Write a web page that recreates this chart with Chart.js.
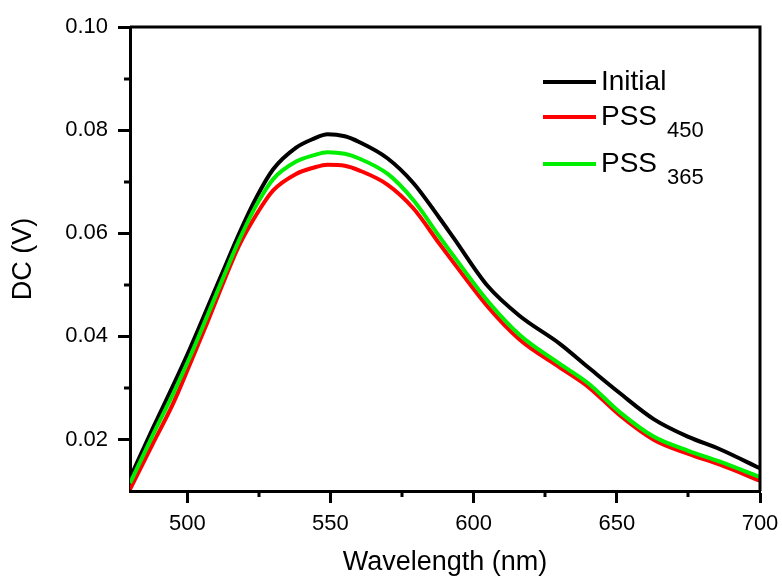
<!DOCTYPE html>
<html>
<head>
<meta charset="utf-8">
<script src="https://cdn.jsdelivr.net/npm/chart.js@4.4.0/dist/chart.umd.min.js"></script>
<style>
html,body{margin:0;padding:0;background:#fff;}
#wrap{width:782px;height:576px;position:relative;}
</style>
</head>
<body>
<div id="wrap"><canvas id="c" width="782" height="576"></canvas></div>
<script>
// ---- data ----
const wavelength = [480, 488, 495, 501, 507, 513, 518, 524, 530, 538, 544, 549, 555, 560, 570, 579, 588, 593, 605, 616, 630, 640, 651, 663, 675, 686, 700];
const initial = [0.0125, 0.0222, 0.0304, 0.0377, 0.0455, 0.0533, 0.0598, 0.0668, 0.0724, 0.0766, 0.0783, 0.0792, 0.0788, 0.0777, 0.0745, 0.0697, 0.0630, 0.0591, 0.0497, 0.0440, 0.0386, 0.0340, 0.0290, 0.0239, 0.0205, 0.0181, 0.0144];
const pss450 = [0.0103, 0.0192, 0.0269, 0.0347, 0.0427, 0.0510, 0.0575, 0.0635, 0.0683, 0.0715, 0.0727, 0.0733, 0.0731, 0.0722, 0.0694, 0.0648, 0.0580, 0.0543, 0.0457, 0.0394, 0.0340, 0.0302, 0.0247, 0.0199, 0.0172, 0.0151, 0.0120];
const pss365 = [0.0115, 0.0209, 0.0288, 0.0361, 0.0440, 0.0520, 0.0585, 0.0653, 0.0705, 0.0739, 0.0751, 0.0757, 0.0754, 0.0745, 0.0715, 0.0664, 0.0594, 0.0556, 0.0468, 0.0403, 0.0347, 0.0309, 0.0253, 0.0205, 0.0178, 0.0157, 0.0127];
const seriesNames = ['Initial', 'PSS', 'PSS'];
const seriesSubs = ['', '450', '365'];
const xMajorTicks = [500, 550, 600, 650, 700];
const xMinorTicks = [525, 575, 625, 675];
const yMajorTicks = [0.02, 0.04, 0.06, 0.08, 0.10];
const yMinorTicks = [0.03, 0.05, 0.07, 0.09];
const xTitle = 'Wavelength (nm)';
const yTitle = 'DC (V)';

const FONT = "'Liberation Sans', Arial, sans-serif";
const colors = ['#000000', '#ff0000', '#00ee00'];

function pts(ys){ return wavelength.map((x,i)=>({x:x, y:ys[i]})); }

const frameAndMinor = {
  id: 'frameAndMinor',
  afterDraw(chart){
    const {ctx, chartArea:a} = chart;
    const xs = chart.scales.x, ys = chart.scales.y;
    ctx.save();
    ctx.strokeStyle = '#000';
    ctx.lineWidth = 3;
    ctx.beginPath();
    ctx.moveTo(a.left, a.top); ctx.lineTo(a.right, a.top); ctx.lineTo(a.right, a.bottom);
    ctx.stroke();
    xMinorTicks.forEach(v=>{
      const px = Math.round(xs.getPixelForValue(v));
      ctx.beginPath(); ctx.moveTo(px, a.bottom); ctx.lineTo(px, a.bottom + 6); ctx.stroke();
    });
    yMinorTicks.forEach(v=>{
      const py = Math.round(ys.getPixelForValue(v));
      ctx.beginPath(); ctx.moveTo(a.left, py); ctx.lineTo(a.left - 6, py); ctx.stroke();
    });
    ctx.restore();
  }
};

const subLegend = {
  id: 'subLegend',
  afterDraw(chart){
    const ctx = chart.ctx;
    const a = chart.chartArea;
    const x0 = a.right - 217, x1 = a.right - 164, tx = a.right - 159;
    let y = a.top + 55;
    ctx.save();
    chart.data.datasets.forEach((ds, i)=>{
      ctx.strokeStyle = ds.borderColor;
      ctx.lineWidth = 4;
      ctx.beginPath(); ctx.moveTo(x0, y); ctx.lineTo(x1, y); ctx.stroke();
      ctx.fillStyle = '#000';
      ctx.font = '28px ' + FONT;
      ctx.textBaseline = 'middle';
      ctx.textAlign = 'left';
      ctx.fillText(seriesNames[i], tx, y);
      let h = 35;
      if (seriesSubs[i]) {
        const w = ctx.measureText(seriesNames[i]).width;
        ctx.font = '22px ' + FONT;
        ctx.textBaseline = 'alphabetic';
        ctx.fillText(seriesSubs[i], tx + w + 10, y + 20);
        h += 12;
      }
      y += h;
    });
    ctx.restore();
  }
};

new Chart(document.getElementById('c'), {
  type: 'line',
  data: {
    datasets: [
      {label: 'Initial', data: pts(initial), borderColor: colors[0], order: 2},
      {label: 'PSS 450', data: pts(pss450), borderColor: colors[1], order: 1},
      {label: 'PSS 365', data: pts(pss365), borderColor: colors[2], order: 0}
    ]
  },
  options: {
    responsive: false,
    animation: false,
    devicePixelRatio: 1,
    layout: {padding: {top: 27, right: 22, bottom: 0, left: 5}},
    elements: {
      line: {borderWidth: 4, cubicInterpolationMode: 'monotone', fill: false},
      point: {radius: 0, hoverRadius: 0}
    },
    plugins: {legend: {display: false}, tooltip: {enabled: false}},
    scales: {
      x: {
        type: 'linear', min: 480, max: 700,
        afterBuildTicks: s => { s.ticks = xMajorTicks.map(v=>({value:v})); },
        afterFit: s => { s.paddingRight = 0; s.paddingLeft = 0; s.height = 85; },
        ticks: {font: {family: FONT, size: 22}, color: '#000', padding: 8, maxRotation: 0, autoSkip: false,
                callback: v => String(v)},
        grid: {drawOnChartArea: false, tickLength: 12, tickWidth: 3, tickColor: '#000'},
        border: {display: true, color: '#000', width: 3},
        title: {display: true, text: xTitle, font: {family: FONT, size: 27, lineHeight: 1.0}, color: '#000', padding: {top: 7, bottom: 0}}
      },
      y: {
        type: 'linear', min: 0.01, max: 0.10,
        afterBuildTicks: s => { s.ticks = yMajorTicks.map(v=>({value:v})); },
        afterFit: s => { s.width = 125; },
        ticks: {font: {family: FONT, size: 22}, color: '#000', padding: 10, autoSkip: false,
                callback: v => Number(v).toFixed(2)},
        grid: {drawOnChartArea: false, tickLength: 12, tickWidth: 3, tickColor: '#000'},
        border: {display: true, color: '#000', width: 3},
        title: {display: true, text: yTitle, font: {family: FONT, size: 27, lineHeight: 1.0}, color: '#000', padding: {top: 5, bottom: 0}}
      }
    }
  },
  plugins: [frameAndMinor, subLegend]
});
</script>
</body>
</html>
